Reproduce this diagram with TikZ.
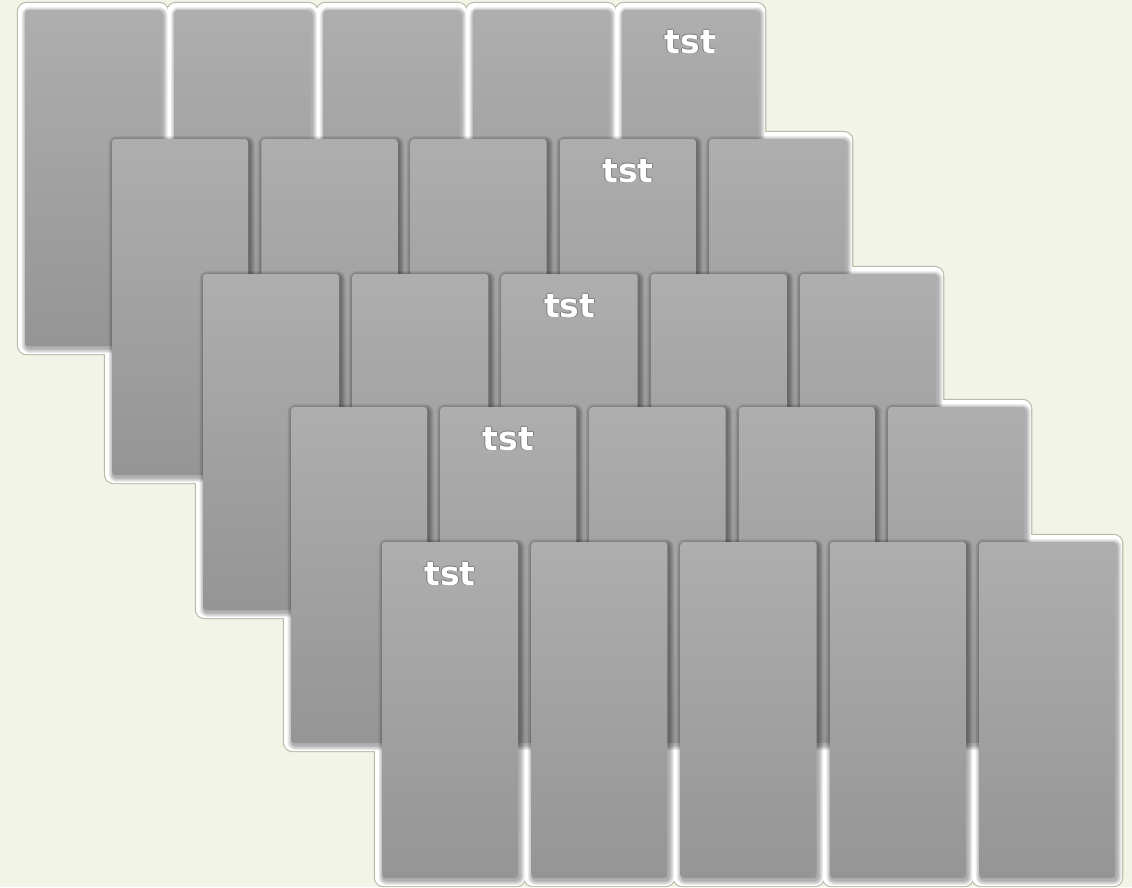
\documentclass[tikz,border=0pt]{standalone}
\usepackage{fontspec}
\newfontfamily\lblfont{DejaVu Sans}
\definecolor{bgc}{HTML}{F1F4E6}
\definecolor{cardtop}{HTML}{AEAEAE}
\definecolor{cardbot}{HTML}{959595}
\definecolor{glowline}{HTML}{B9BBAA}
\definecolor{lblshade}{HTML}{747474}
\begin{document}
\begin{tikzpicture}[x=1pt,y=-1pt,
  card/.style={rectangle, rounded corners=3pt, inner sep=0pt, outer sep=0pt,
    minimum width=136pt, minimum height=336pt, anchor=north west,
    top color=cardtop, bottom color=cardbot, draw=none},
  glowedge/.style={draw=glowline, line width=1.3pt, rounded corners=9pt},
  glowfill/.style={fill=white, rounded corners=8.5pt},
  shadowlayer/.style={fill=black, opacity=0.07},
  lbl/.style={font=\lblfont\bfseries\fontsize{33}{33}\selectfont, inner sep=0pt, anchor=base}
]
\fill[bgc] (0,0) rectangle (1132,887);
\useasboundingbox (0,0) rectangle (1132,887);
% outer glow of the whole stack
\foreach \x/\y in {25/10,112/139,203/274,291/407,382/542}{
  \foreach \c in {0,...,4}{
    \draw[glowedge] (\x+\c*149.3-7.5,\y-7.5) rectangle (\x+\c*149.3+143.5,\y+344.5);
  }
}
\foreach \x/\y in {25/10,112/139,203/274,291/407,382/542}{
  \foreach \c in {0,...,4}{
    \fill[glowfill] (\x+\c*149.3-7,\y-7) rectangle (\x+\c*149.3+143,\y+344);
  }
}
% rows of cards with their shadows
\foreach \r/\x/\y in {1/25/10,2/112/139,3/203/274,4/291/407,5/382/542}{
  \foreach \c in {0,...,4}{
    \foreach \k in {1,...,5}{
      \fill[shadowlayer, rounded corners=3pt+\k pt]
        (\x+\c*149.3+1.5-\k,\y+2-\k) rectangle (\x+\c*149.3+137.5+\k,\y+338+\k);
    }
  }
  \foreach \c in {0,...,4}{
    \node[card] (r\r c\c) at (\x+\c*149.3,\y) {};
  }
}
% labels
\foreach \r/\x/\y/\c in {1/25/10/4,2/112/139/3,3/203/274/2,4/291/407/1,5/382/542/0}{
  \foreach \dx/\dy in {-0.9/0,0.9/0,0/-0.9,0/0.9}{
    \node[lbl, text=lblshade, opacity=0.8] at (\x+\c*149.3+68+\dx,\y+43+\dy) {tst};
  }
  \node[lbl, text=white] (t\r) at (\x+\c*149.3+68,\y+43) {tst};
}
\end{tikzpicture}
\end{document}
